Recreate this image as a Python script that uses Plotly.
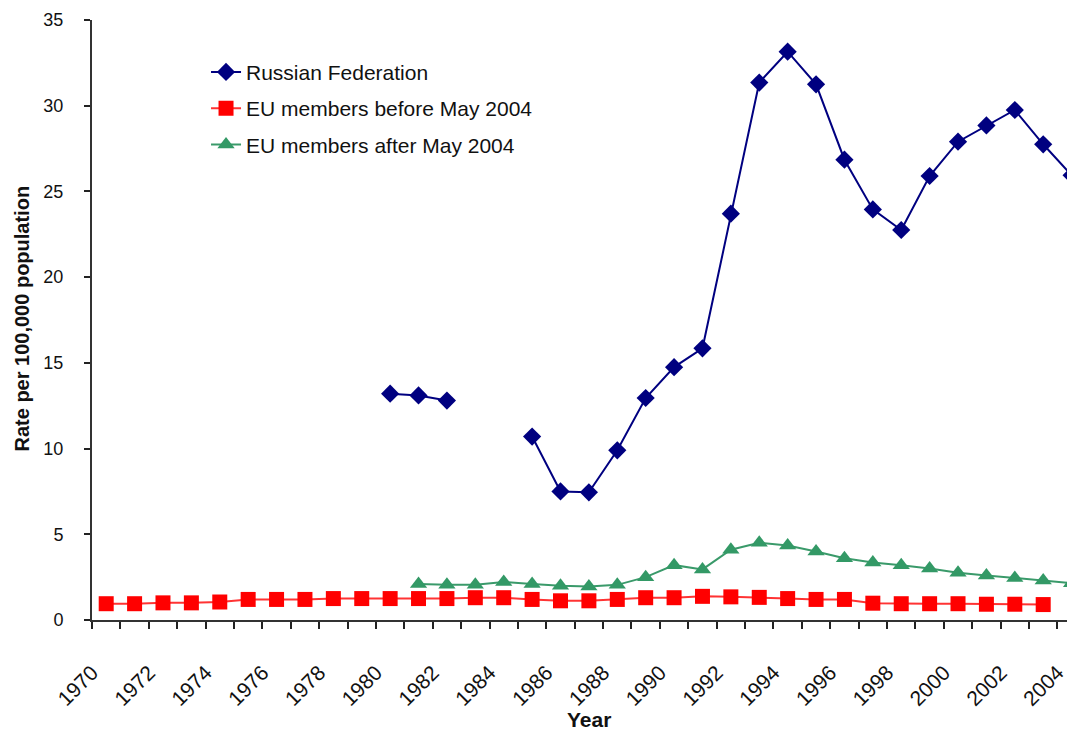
import plotly.graph_objects as go

russia_years = [1980, 1981, 1982, 1983, 1984, 1985, 1986, 1987, 1988, 1989, 1990, 1991, 1992,
                1993, 1994, 1995, 1996, 1997, 1998, 1999, 2000, 2001, 2002, 2003, 2004]
russia_vals = [13.2, 13.1, 12.8, None, None, 10.7, 7.5, 7.45, 9.9, 12.95, 14.75, 15.85, 23.7,
               31.35, 33.15, 31.25, 26.85, 23.95, 22.75, 25.9, 27.9, 28.85, 29.75, 27.75, 25.95]

eu_before_years = list(range(1970, 2004))
eu_before_vals = [0.95, 0.95, 1.0, 1.0, 1.05, 1.2, 1.2, 1.2, 1.25, 1.25,
                  1.25, 1.25, 1.25, 1.3, 1.3, 1.2, 1.12, 1.12, 1.2, 1.3,
                  1.3, 1.38, 1.35, 1.32, 1.25, 1.2, 1.2, 0.98, 0.95, 0.95,
                  0.95, 0.92, 0.92, 0.9]

eu_after_years = list(range(1981, 2005))
eu_after_vals = [2.1, 2.05, 2.05, 2.22, 2.1, 2.0, 1.95, 2.05, 2.5, 3.2,
                 2.95, 4.1, 4.5, 4.35, 4.0, 3.6, 3.35, 3.2, 3.0, 2.75,
                 2.6, 2.45, 2.3, 2.15]

tick_years = list(range(1970, 2005, 2))

FONT = "Liberation Sans, Arial, sans-serif"

fig = go.Figure()
fig.add_trace(go.Scatter(
    x=russia_years, y=russia_vals, mode="lines+markers", name="Russian Federation",
    line=dict(color="#000080", width=2),
    marker=dict(symbol="diamond", size=14, color="#000080"),
    connectgaps=False, legendgroup="a", cliponaxis=False))
fig.add_trace(go.Scatter(
    x=eu_before_years, y=eu_before_vals, mode="lines+markers", name="EU members before May 2004",
    line=dict(color="#FF3333", width=2),
    marker=dict(symbol="square", size=15, color="#FF0000"),
    legendgroup="b"))
fig.add_trace(go.Scatter(
    x=eu_after_years, y=eu_after_vals, mode="lines+markers", name="EU members after May 2004",
    line=dict(color="#3A9A6A", width=2),
    marker=dict(symbol="triangle-up", size=15, color="#339966"),
    legendgroup="c", cliponaxis=False))

fig.update_layout(
    width=1075, height=732,
    margin=dict(l=84, r=8, t=12, b=120, autoexpand=False),
    plot_bgcolor="white", paper_bgcolor="white",
    font=dict(family=FONT, color="#111111"),
    showlegend=True,
    legend=dict(x=0.116, y=0.947, xanchor="left", yanchor="top",
                font=dict(size=21, color="#111111"), tracegroupgap=6,
                bgcolor="rgba(0,0,0,0)"),
    xaxis=dict(
        range=[1969.5, 2004.12], tickmode="array", tickvals=tick_years,
        ticktext=[str(y) for y in tick_years], tickangle=-45, ticks="",
        tickfont=dict(size=21, color="#111111"), automargin=False,
        ticklabelstandoff=30, ticklabelshift=-14,
        showline=True, linecolor="#333333", linewidth=2, showgrid=False, zeroline=False,
        minor=dict(tick0=1969.5, dtick=1, ticks="outside", ticklen=7, tickcolor="#222222",
                   tickwidth=2, showgrid=False),
    ),
    yaxis=dict(
        range=[0, 35], dtick=5, ticks="outside", ticklen=6, tickwidth=1.5, tickcolor="#222222",
        tickfont=dict(size=18, color="#111111"), ticklabelstandoff=17, automargin=False,
        showline=True, linecolor="#333333", linewidth=2, showgrid=False, zeroline=False,
    ),
    annotations=[
        dict(text="<b>Rate per 100,000 population</b>", textangle=-90, xref="paper", yref="paper",
             x=-0.0722, y=0.5025, xanchor="center", yanchor="middle", showarrow=False,
             font=dict(size=20, color="#111111")),
        dict(text="<b>Year</b>", xref="x", yref="paper", x=1987.0, y=-0.165,
             xanchor="center", yanchor="middle", showarrow=False,
             font=dict(size=21, color="#111111")),
    ],
)

fig.write_html("out.html")
